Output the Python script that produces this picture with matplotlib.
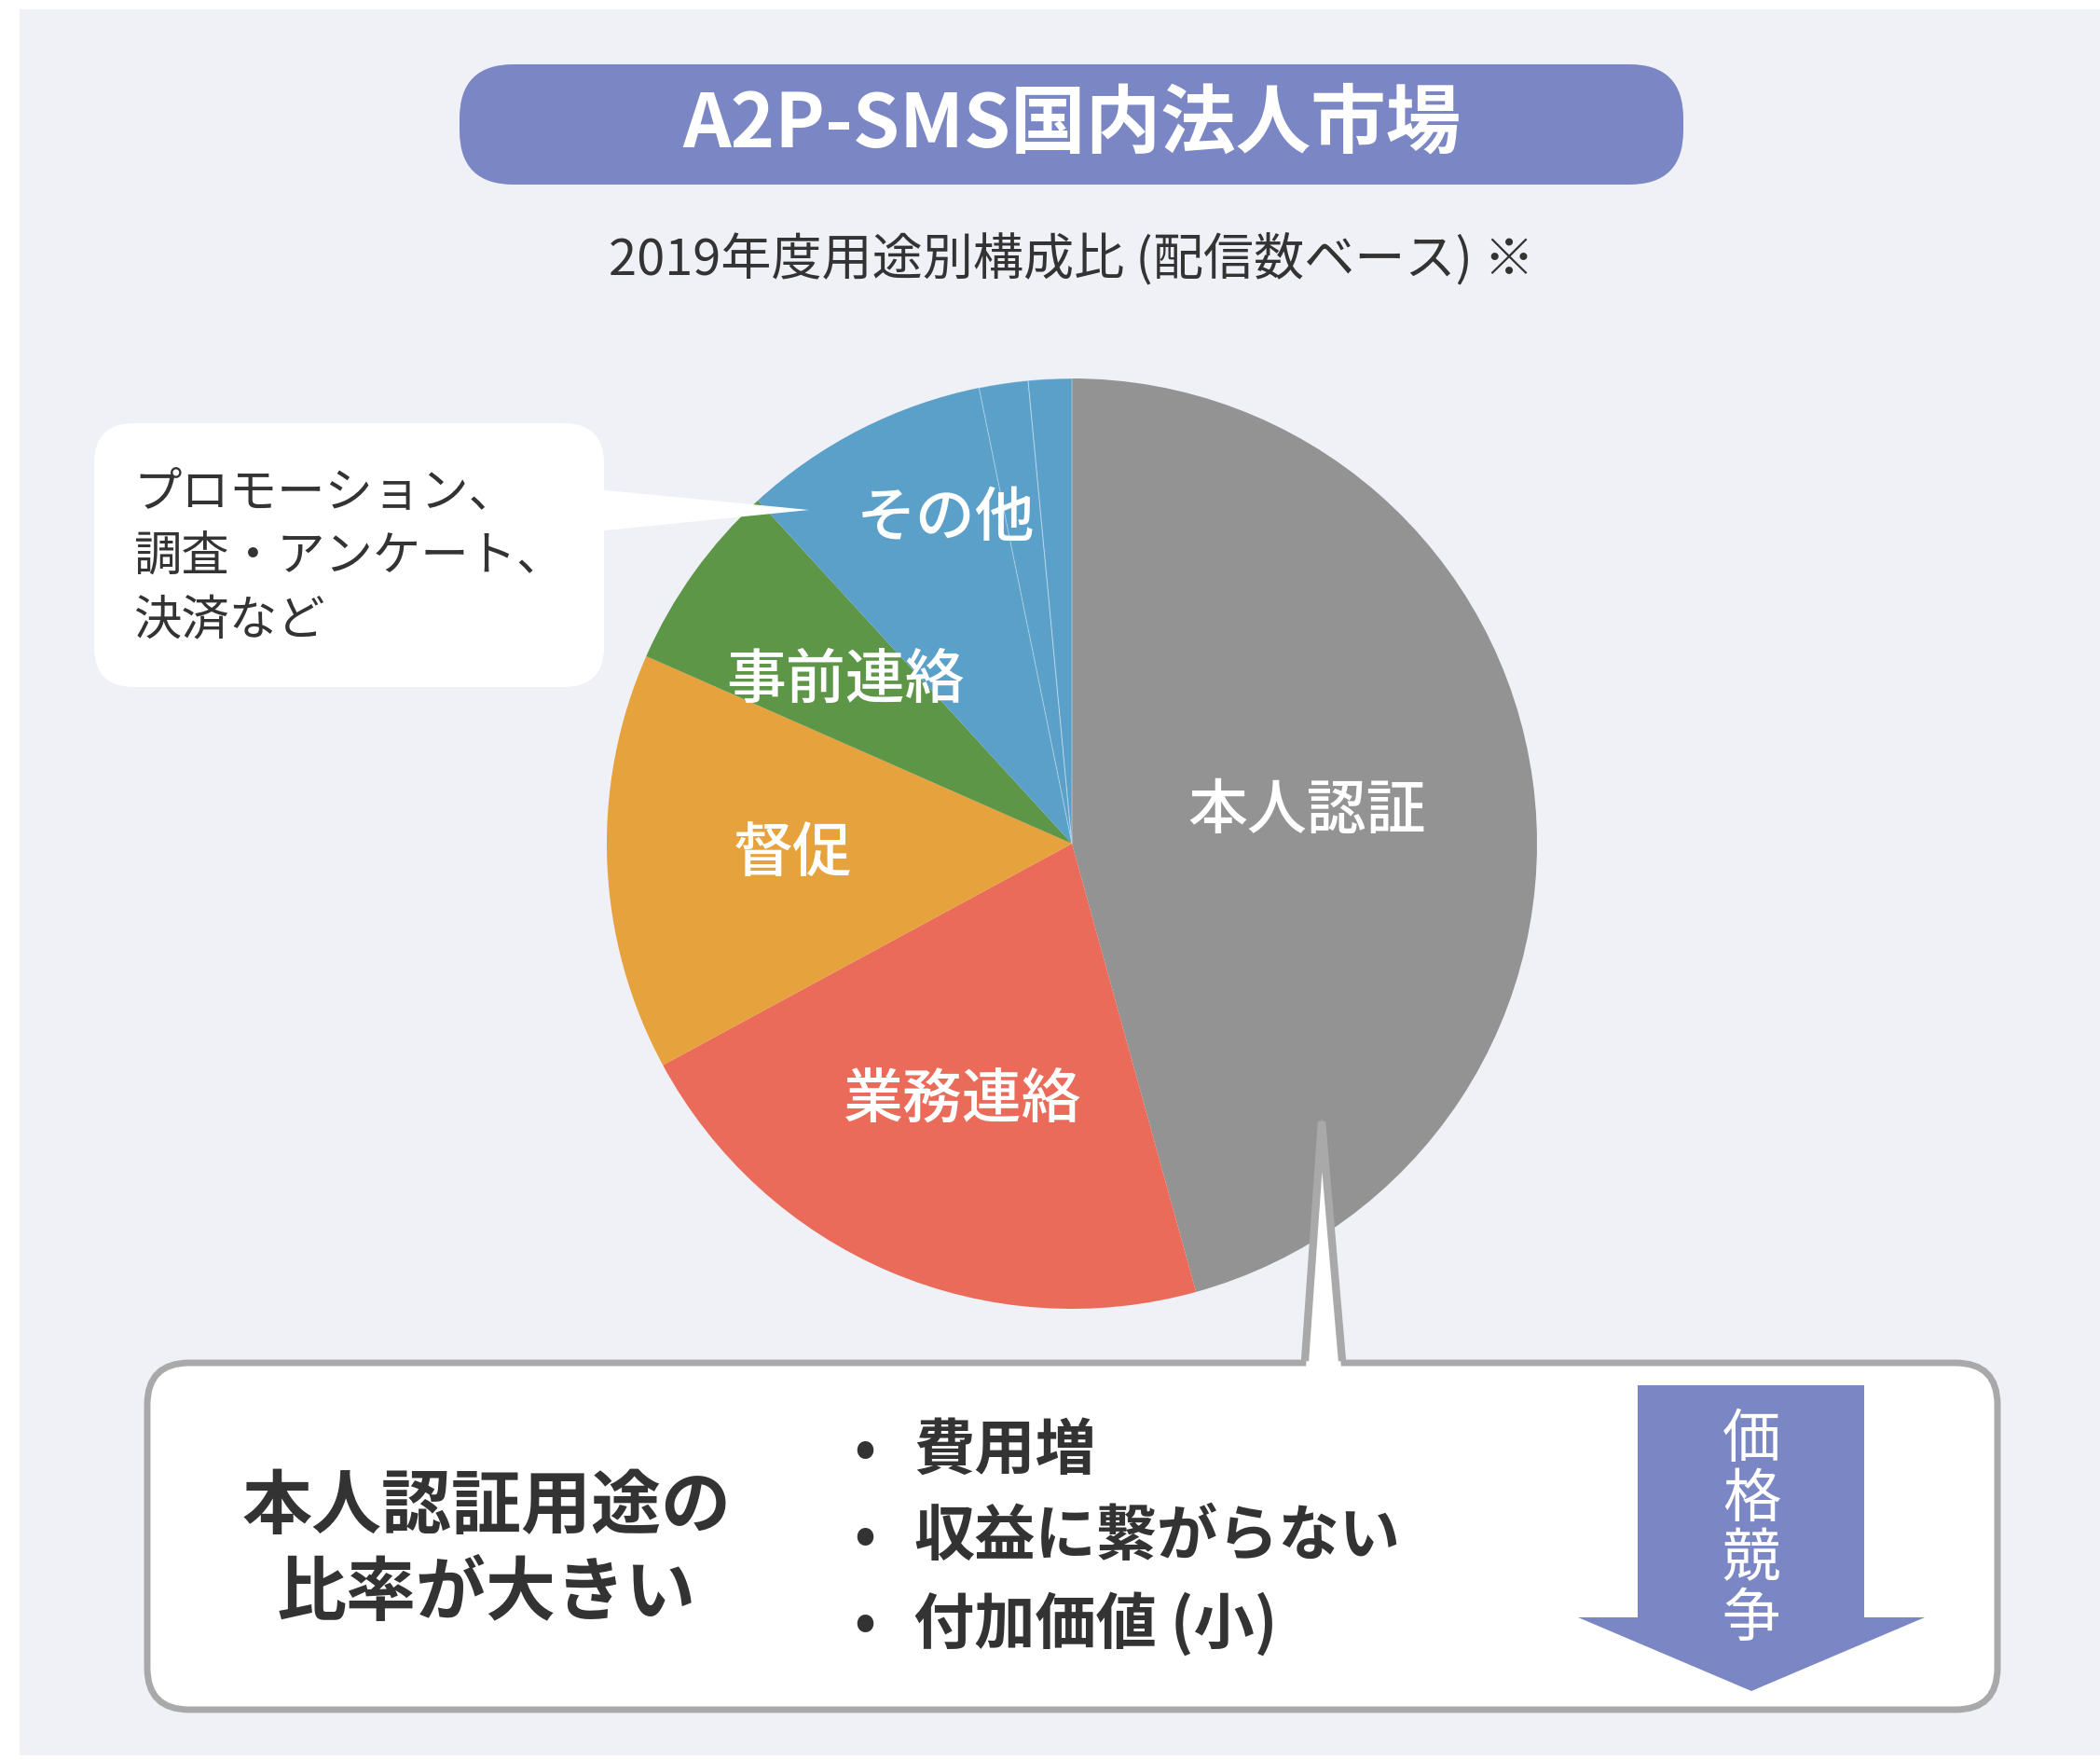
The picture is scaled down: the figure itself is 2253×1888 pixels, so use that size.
import numpy as np
import matplotlib
matplotlib.use("Agg")
import matplotlib.pyplot as plt
from matplotlib.patches import FancyBboxPatch, Polygon, Rectangle

plt.rcParams['font.family'] = ['Noto Sans CJK JP', 'DejaVu Sans']

# data (share of messages, %)
categories = ["本人認証", "業務連絡", "督促", "事前連絡", "プロモーション", "調査・アンケート", "決済"]
shares = [45.7, 21.4, 14.5, 6.6, 8.6, 1.7, 1.5]
colors = ["#939393", "#EA6B59", "#E6A23D", "#5E9648", "#5AA0C9", "#5AA0C9", "#5AA0C9"]
pie_labels = ["本人認証", "業務連絡", "督促", "事前連絡", "その他"]
label_groups = [[0], [1], [2], [3], [4, 5, 6]]
label_radius = [0.51, 0.60, 0.60, 0.60, 0.75]

callout_lines = ["プロモーション、", "調査・アンケート、", "決済など"]
summary_lines = ["本人認証用途の", "比率が大きい"]
bullets = ["費用増", "収益に繋がらない", "付加価値 (小)"]
arrow_text = "価格競争"

W, H = 2253, 1888
TXT = "#333333"
PURPLE = "#7B87C4"

fig = plt.figure(figsize=(W / 100, H / 100), dpi=100)
ax = fig.add_axes([0, 0, 1, 1])

# background panel
ax.add_patch(Rectangle((21, 10), W - 21, 1873, facecolor="#F0F1F7", edgecolor="none", zorder=0))

# title pill
ax.add_patch(FancyBboxPatch((493, 69), 1313, 129, boxstyle="round,pad=0,rounding_size=58",
                            facecolor=PURPLE, edgecolor="none", zorder=1))
ax.text(1150, 134, "A2P-SMS国内法人市場", color="white", fontsize=58, fontweight="bold",
        ha="center", va="center", zorder=2)
ax.text(1150, 279, "2019年度用途別構成比 (配信数ベース) ※", color=TXT, fontsize=39,
        ha="center", va="center", zorder=2)

# pie (y axis is inverted, so start at -90 and counterclock draws clockwise on screen)
cx, cy, R = 1150, 905, 499
wedges, _ = ax.pie(shares, colors=colors, center=(cx, cy), radius=R, startangle=-90,
                   counterclock=True, frame=True,
                   wedgeprops=dict(edgecolor=(1, 1, 1, 0.35), linewidth=0.8))
for w in wedges[:5]:
    w.set_edgecolor("none")
for w in wedges:
    w.set_zorder(3)

starts = np.concatenate([[0], np.cumsum(shares)[:-1]])
for lab, grp, rf in zip(pie_labels, label_groups, label_radius):
    a0 = starts[grp[0]]
    a1 = starts[grp[-1]] + shares[grp[-1]]
    ang = np.deg2rad(-90 + (a0 + a1) / 2 * 3.6)
    ax.text(cx + rf * R * np.cos(ang), cy + rf * R * np.sin(ang), lab, color="white",
            fontsize=46, fontweight="medium", ha="center", va="center", zorder=5)

# callout for "other"
ax.add_patch(FancyBboxPatch((101, 454), 547, 283, boxstyle="round,pad=0,rounding_size=43",
                            facecolor="white", edgecolor="none", zorder=4))
ax.add_patch(Polygon([(640, 525), (868, 547), (640, 570)], closed=True,
                     facecolor="white", edgecolor="none", zorder=4))
for i, line in enumerate(callout_lines):
    ax.text(143, 528 + i * 69, line, color=TXT, fontsize=37, ha="left", va="center", zorder=5)

# bottom summary box with spike
ax.add_patch(FancyBboxPatch((158, 1462), 1985, 372, boxstyle="round,pad=0,rounding_size=45",
                            facecolor="white", edgecolor="#A9A9A9", linewidth=5, zorder=4))
ax.add_patch(Polygon([(1401, 1468), (1418, 1200), (1439, 1468)], closed=True,
                     facecolor="white", edgecolor="none", zorder=5))
ax.plot([1400, 1418, 1440], [1460, 1203, 1460], color="#A9A9A9", linewidth=6,
        solid_joinstyle="bevel", solid_capstyle="butt", zorder=5)

for i, line in enumerate(summary_lines):
    ax.text(522, 1617 + i * 93, line, color=TXT, fontsize=54, fontweight="bold",
            ha="center", va="center", zorder=6)
for i, b in enumerate(bullets):
    y = 1556 + i * 93
    ax.text(928, y, "•", color=TXT, fontsize=44, fontweight="bold", ha="center", va="center", zorder=6)
    ax.text(980, y, b, color=TXT, fontsize=47, fontweight="bold", ha="left", va="center", zorder=6)

# price competition arrow
ax.add_patch(Polygon([(1757, 1486), (2000, 1486), (2000, 1735), (2065, 1735), (1879, 1814),
                      (1693, 1735), (1757, 1735)], closed=True,
                     facecolor=PURPLE, edgecolor="none", zorder=6))
for i, ch in enumerate(arrow_text):
    ax.text(1879, 1545 + i * 64, ch, color="white", fontsize=45, ha="center", va="center", zorder=7)

ax.set_xlim(0, W)
ax.set_ylim(H, 0)
ax.set_aspect("auto")
ax.axis("off")

fig.savefig("out.png", dpi=100, facecolor="white")
